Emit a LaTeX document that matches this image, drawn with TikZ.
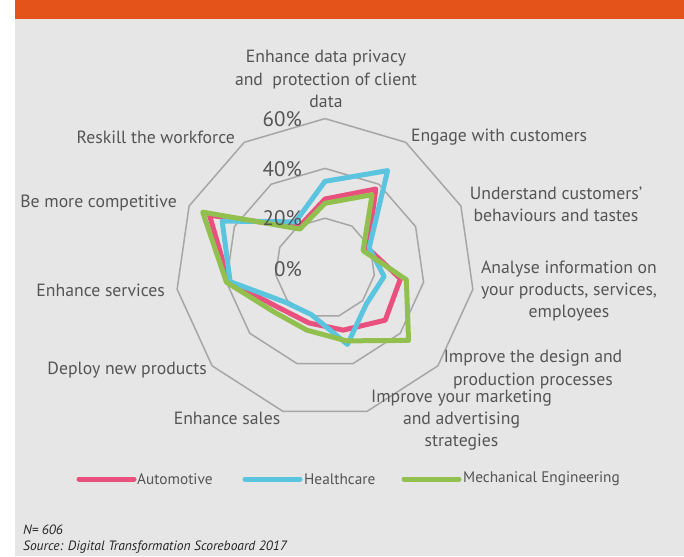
\documentclass[tikz,border=0pt]{standalone}
\usepackage{fontspec}
\setmainfont{PT Sans}
\definecolor{barorange}{HTML}{E4531A}
\definecolor{panelgray}{HTML}{E6E6E6}
\definecolor{ringgray}{HTML}{A6A6A6}
\definecolor{txtgray}{HTML}{555555}
\definecolor{autopink}{HTML}{E9507E}
\definecolor{healthblue}{HTML}{5BC5DF}
\definecolor{mechgreen}{HTML}{92C04F}
\tikzset{
ring/.style={draw=ringgray, line width=1.5pt},
serie/.style={line width=5pt, line join=round},
lbl/.style={text=txtgray, align=center, inner sep=0pt, font=\fontsize{17.7}{22.3}\selectfont},
keylbl/.style={text=txtgray, anchor=west, inner sep=0pt, font=\fontsize{15.3}{18}\selectfont},
pct/.style={text=txtgray, anchor=east, inner sep=0pt, font=\fontsize{21}{24}\selectfont},
key/.style={line width=5pt, line cap=round},
note/.style={anchor=west, inner sep=0pt, text=black!85, font=\fontsize{13.5}{16}\selectfont\itshape}
}
\begin{document}
\begin{tikzpicture}[x=1pt,y=-1pt]
\useasboundingbox (0,0) rectangle (684,556);
\fill[panelgray] (15,0) rectangle (684,556);
\fill[barorange] (15,0) rectangle (684,19);
\def\u{2.49}
\begin{scope}[shift={(325,268)}]
\foreach \r in {20,40,60}
\draw[ring] (-90:\r*\u) \foreach \k in {1,...,10} {-- (\k*360/11-90:\r*\u)} -- cycle;
\def\serie#1#2#3{
\foreach \v [count=\k from 0] in {#3}
\coordinate (#1\k) at (\k*360/11-90:\v*\u);
\draw[serie, #2] (#10) \foreach \k in {1,...,10} {-- (#1\k)} -- cycle;
}
\serie{auto}{autopink}{27.7,37.7,19,30.6,32,26,23,24.4,39,51,19.5}
\serie{health}{healthblue}{34.8,46.5,19.5,24,22,32,19.5,21,38.5,45.4,22}
\serie{mech}{mechgreen}{26,35,16.8,33,44.4,30.5,26,27,40,54,18.6}
\end{scope}
\foreach \p/\y in {0/269,20/218,40/169,60/119}
\node[pct] (p\p) at (302,\y) {\p\%};
\node[lbl] (privacy) at (326,79) {Enhance data privacy\\and~ protection of client\\data};
\node[lbl] (engage) at (499,137) {Engage with customers};
\node[lbl] (understand) at (556,204) {Understand customers'\\behaviours and tastes};
\node[lbl] (analyse) at (569,291) {Analyse information on\\your products, services,\\employees};
\node[lbl] (design) at (533,369.5) {Improve the design and\\production processes};
\node[lbl] (marketing) at (461.5,420) {Improve your marketing\\and advertising\\strategies};
\node[lbl] (sales) at (227,418) {Enhance sales};
\node[lbl, anchor=east] (deploy) at (207,370) {Deploy new products};
\node[lbl, anchor=east] (services) at (165,290) {Enhance services};
\node[lbl, anchor=east] (competitive) at (177,203) {Be more competitive};
\node[lbl, anchor=east] (reskill) at (235,137) {Reskill the workforce};
\draw[key, autopink] (79,479) -- (134,479);
\node[keylbl] (autokey) at (137,479) {Automotive};
\draw[key, healthblue] (245,479) -- (300,479);
\node[keylbl] (healthkey) at (304,479) {Healthcare};
\draw[key, mechgreen] (404,479) -- (459,479);
\node[keylbl] (mechkey) at (463,479) {Mechanical Engineering};
\node[note] (size) at (23,530) {N= 606};
\node[note] (source) at (23,547) {Source: Digital Transformation Scoreboard 2017};
\end{tikzpicture}
\end{document}
